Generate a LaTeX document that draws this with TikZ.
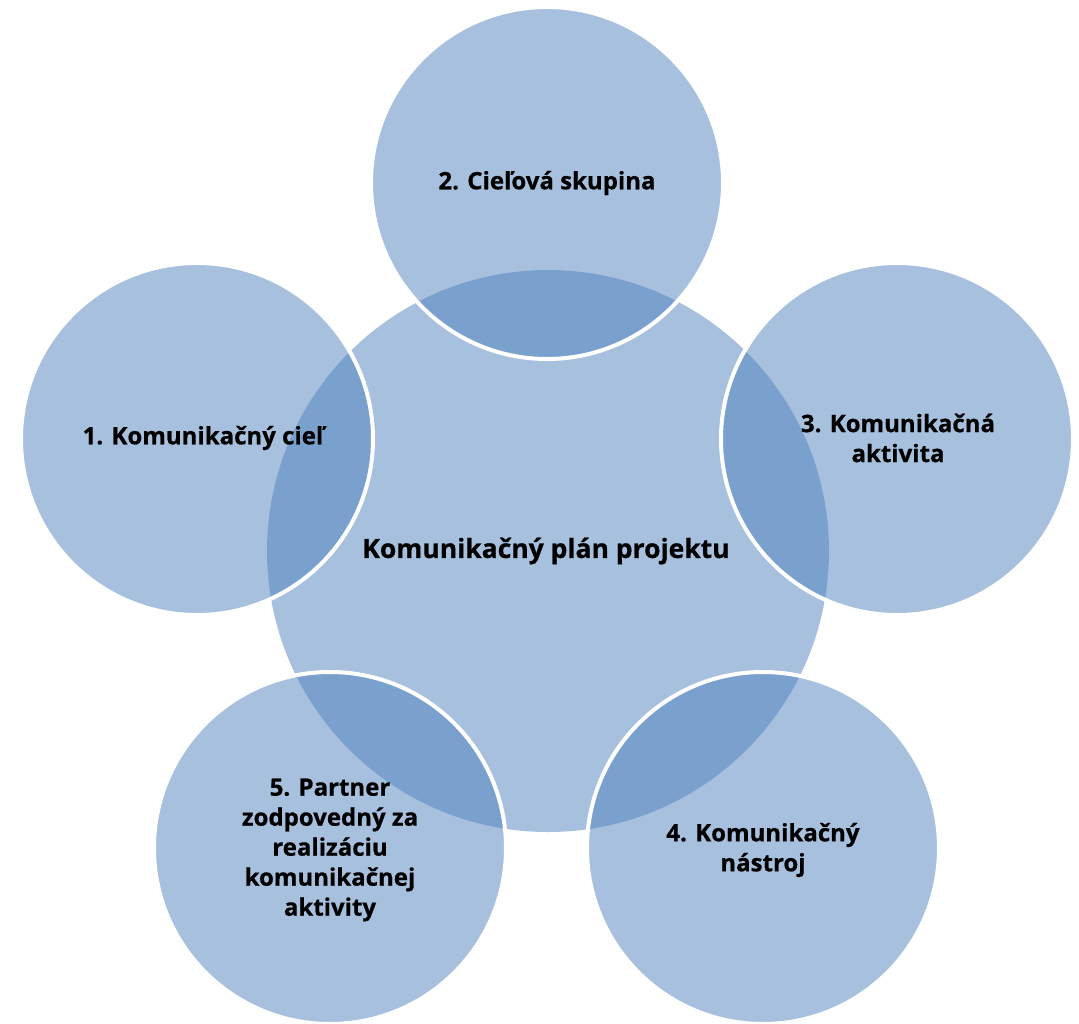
\documentclass[tikz,border=0pt]{standalone}
\usepackage{fontspec}
\setmainfont{Open Sans}[BoldFeatures={FakeBold=0.6}]
\definecolor{accent}{HTML}{4F81BD}
\begin{document}
\begin{tikzpicture}[x=1pt,y=-1pt,
  bubble/.style={circle, inner sep=0pt, fill=accent, fill opacity=0.5},
  outer/.style={bubble, minimum size=352pt, draw=white, draw opacity=1, line width=4pt},
  lbl/.style={font=\bfseries\fontsize{24}{30}\selectfont, align=center, text=black, inner sep=0pt}]
\useasboundingbox (0,0) rectangle (1079,1023);
\node[bubble, minimum size=562pt] (center) at (548,551) {};
\node[outer] (c2) at (547,183) {};
\node[outer] (c1) at (197,439) {};
\node[outer] (c3) at (897,439) {};
\node[outer] (c4) at (763,848) {};
\node[outer] (c5) at (330,848) {};
\node[lbl, font=\bfseries\fontsize{26.5}{30}\selectfont] (t0) at (546,551) {Komunikačný plán projektu};
\node[lbl] (t2) at (547,183) {2. Cieľová skupina};
\node[lbl] (t1) at (203,438) {1. Komunikačný cieľ};
\node[lbl] (t3) at (898,438) {3. Komunikačná\\aktivita};
\node[lbl] (t4) at (763,850) {4. Komunikačný\\nástroj};
\node[lbl] (t5) at (330,850) {5. Partner\\zodpovedný za\\realizáciu\\komunikačnej\\aktivity};
\end{tikzpicture}
\end{document}
